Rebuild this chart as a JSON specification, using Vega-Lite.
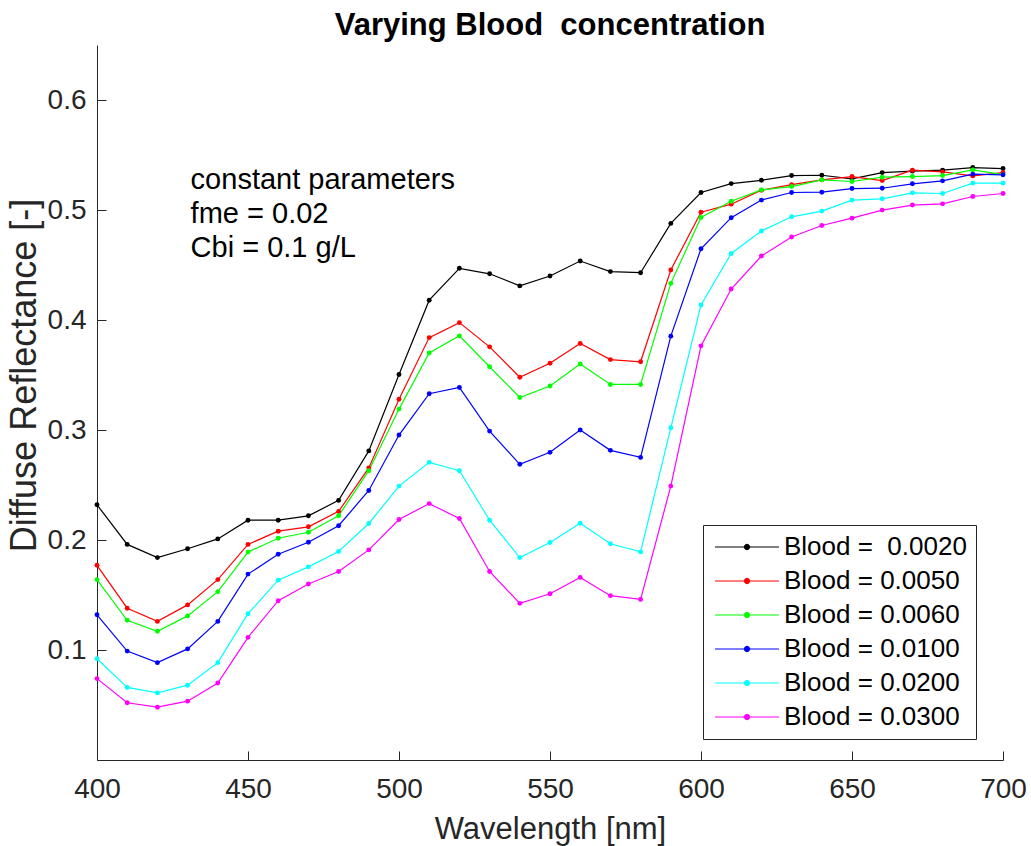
{
  "$schema": "https://vega.github.io/schema/vega-lite/v6.json",
  "autosize": {"type": "none"},
  "width": 906,
  "height": 715,
  "padding": {"left": 97, "top": 45, "right": 28, "bottom": 86},
  "background": "white",
  "title": {
    "text": "Varying Blood\u00a0 concentration",
    "font": "Liberation Sans",
    "fontSize": 31,
    "fontWeight": "bold",
    "color": "black",
    "anchor": "middle",
    "baseline": "alphabetic",
    "frame": "group",
    "offset": -21
  },
  "config": {
    "view": {"stroke": null},
    "font": "Liberation Sans"
  },
  "datasets": {
    "spectra": [
      {"wl":400,"s":"Blood = \u00a00.0020","r":0.232},{"wl":400,"s":"Blood = 0.0050","r":0.177},{"wl":400,"s":"Blood = 0.0060","r":0.164},{"wl":400,"s":"Blood = 0.0100","r":0.132},{"wl":400,"s":"Blood = 0.0200","r":0.092},{"wl":400,"s":"Blood = 0.0300","r":0.074},
      {"wl":410,"s":"Blood = \u00a00.0020","r":0.196},{"wl":410,"s":"Blood = 0.0050","r":0.138},{"wl":410,"s":"Blood = 0.0060","r":0.127},{"wl":410,"s":"Blood = 0.0100","r":0.099},{"wl":410,"s":"Blood = 0.0200","r":0.066},{"wl":410,"s":"Blood = 0.0300","r":0.052},
      {"wl":420,"s":"Blood = \u00a00.0020","r":0.184},{"wl":420,"s":"Blood = 0.0050","r":0.126},{"wl":420,"s":"Blood = 0.0060","r":0.117},{"wl":420,"s":"Blood = 0.0100","r":0.0885},{"wl":420,"s":"Blood = 0.0200","r":0.061},{"wl":420,"s":"Blood = 0.0300","r":0.048},
      {"wl":430,"s":"Blood = \u00a00.0020","r":0.192},{"wl":430,"s":"Blood = 0.0050","r":0.141},{"wl":430,"s":"Blood = 0.0060","r":0.131},{"wl":430,"s":"Blood = 0.0100","r":0.101},{"wl":430,"s":"Blood = 0.0200","r":0.068},{"wl":430,"s":"Blood = 0.0300","r":0.0535},
      {"wl":440,"s":"Blood = \u00a00.0020","r":0.201},{"wl":440,"s":"Blood = 0.0050","r":0.164},{"wl":440,"s":"Blood = 0.0060","r":0.153},{"wl":440,"s":"Blood = 0.0100","r":0.126},{"wl":440,"s":"Blood = 0.0200","r":0.0885},{"wl":440,"s":"Blood = 0.0300","r":0.070},
      {"wl":450,"s":"Blood = \u00a00.0020","r":0.218},{"wl":450,"s":"Blood = 0.0050","r":0.196},{"wl":450,"s":"Blood = 0.0060","r":0.189},{"wl":450,"s":"Blood = 0.0100","r":0.169},{"wl":450,"s":"Blood = 0.0200","r":0.133},{"wl":450,"s":"Blood = 0.0300","r":0.1115},
      {"wl":460,"s":"Blood = \u00a00.0020","r":0.218},{"wl":460,"s":"Blood = 0.0050","r":0.208},{"wl":460,"s":"Blood = 0.0060","r":0.2016},{"wl":460,"s":"Blood = 0.0100","r":0.187},{"wl":460,"s":"Blood = 0.0200","r":0.1635},{"wl":460,"s":"Blood = 0.0300","r":0.1448},
      {"wl":470,"s":"Blood = \u00a00.0020","r":0.222},{"wl":470,"s":"Blood = 0.0050","r":0.212},{"wl":470,"s":"Blood = 0.0060","r":0.207},{"wl":470,"s":"Blood = 0.0100","r":0.198},{"wl":470,"s":"Blood = 0.0200","r":0.1756},{"wl":470,"s":"Blood = 0.0300","r":0.160},
      {"wl":480,"s":"Blood = \u00a00.0020","r":0.236},{"wl":480,"s":"Blood = 0.0050","r":0.226},{"wl":480,"s":"Blood = 0.0060","r":0.222},{"wl":480,"s":"Blood = 0.0100","r":0.213},{"wl":480,"s":"Blood = 0.0200","r":0.1896},{"wl":480,"s":"Blood = 0.0300","r":0.1714},
      {"wl":490,"s":"Blood = \u00a00.0020","r":0.281},{"wl":490,"s":"Blood = 0.0050","r":0.2655},{"wl":490,"s":"Blood = 0.0060","r":0.263},{"wl":490,"s":"Blood = 0.0100","r":0.245},{"wl":490,"s":"Blood = 0.0200","r":0.215},{"wl":490,"s":"Blood = 0.0300","r":0.191},
      {"wl":500,"s":"Blood = \u00a00.0020","r":0.3505},{"wl":500,"s":"Blood = 0.0050","r":0.328},{"wl":500,"s":"Blood = 0.0060","r":0.319},{"wl":500,"s":"Blood = 0.0100","r":0.2954},{"wl":500,"s":"Blood = 0.0200","r":0.249},{"wl":500,"s":"Blood = 0.0300","r":0.2186},
      {"wl":510,"s":"Blood = \u00a00.0020","r":0.418},{"wl":510,"s":"Blood = 0.0050","r":0.384},{"wl":510,"s":"Blood = 0.0060","r":0.370},{"wl":510,"s":"Blood = 0.0100","r":0.333},{"wl":510,"s":"Blood = 0.0200","r":0.2706},{"wl":510,"s":"Blood = 0.0300","r":0.2331},
      {"wl":520,"s":"Blood = \u00a00.0020","r":0.447},{"wl":520,"s":"Blood = 0.0050","r":0.3976},{"wl":520,"s":"Blood = 0.0060","r":0.3856},{"wl":520,"s":"Blood = 0.0100","r":0.3387},{"wl":520,"s":"Blood = 0.0200","r":0.263},{"wl":520,"s":"Blood = 0.0300","r":0.2195},
      {"wl":530,"s":"Blood = \u00a00.0020","r":0.442},{"wl":530,"s":"Blood = 0.0050","r":0.3756},{"wl":530,"s":"Blood = 0.0060","r":0.3575},{"wl":530,"s":"Blood = 0.0100","r":0.299},{"wl":530,"s":"Blood = 0.0200","r":0.218},{"wl":530,"s":"Blood = 0.0300","r":0.1714},
      {"wl":540,"s":"Blood = \u00a00.0020","r":0.431},{"wl":540,"s":"Blood = 0.0050","r":0.348},{"wl":540,"s":"Blood = 0.0060","r":0.3296},{"wl":540,"s":"Blood = 0.0100","r":0.2688},{"wl":540,"s":"Blood = 0.0200","r":0.184},{"wl":540,"s":"Blood = 0.0300","r":0.1424},
      {"wl":550,"s":"Blood = \u00a00.0020","r":0.440},{"wl":550,"s":"Blood = 0.0050","r":0.3607},{"wl":550,"s":"Blood = 0.0060","r":0.340},{"wl":550,"s":"Blood = 0.0100","r":0.2797},{"wl":550,"s":"Blood = 0.0200","r":0.1977},{"wl":550,"s":"Blood = 0.0300","r":0.1511},
      {"wl":560,"s":"Blood = \u00a00.0020","r":0.4536},{"wl":560,"s":"Blood = 0.0050","r":0.3786},{"wl":560,"s":"Blood = 0.0060","r":0.360},{"wl":560,"s":"Blood = 0.0100","r":0.300},{"wl":560,"s":"Blood = 0.0200","r":0.2152},{"wl":560,"s":"Blood = 0.0300","r":0.166},
      {"wl":570,"s":"Blood = \u00a00.0020","r":0.444},{"wl":570,"s":"Blood = 0.0050","r":0.364},{"wl":570,"s":"Blood = 0.0060","r":0.3414},{"wl":570,"s":"Blood = 0.0100","r":0.2815},{"wl":570,"s":"Blood = 0.0200","r":0.1966},{"wl":570,"s":"Blood = 0.0300","r":0.1494},
      {"wl":580,"s":"Blood = \u00a00.0020","r":0.443},{"wl":580,"s":"Blood = 0.0050","r":0.362},{"wl":580,"s":"Blood = 0.0060","r":0.3414},{"wl":580,"s":"Blood = 0.0100","r":0.2751},{"wl":580,"s":"Blood = 0.0200","r":0.1892},{"wl":580,"s":"Blood = 0.0300","r":0.146},
      {"wl":590,"s":"Blood = \u00a00.0020","r":0.4878},{"wl":590,"s":"Blood = 0.0050","r":0.4455},{"wl":590,"s":"Blood = 0.0060","r":0.4333},{"wl":590,"s":"Blood = 0.0100","r":0.3853},{"wl":590,"s":"Blood = 0.0200","r":0.302},{"wl":590,"s":"Blood = 0.0300","r":0.249},
      {"wl":600,"s":"Blood = \u00a00.0020","r":0.5159},{"wl":600,"s":"Blood = 0.0050","r":0.498},{"wl":600,"s":"Blood = 0.0060","r":0.4932},{"wl":600,"s":"Blood = 0.0100","r":0.4648},{"wl":600,"s":"Blood = 0.0200","r":0.4137},{"wl":600,"s":"Blood = 0.0300","r":0.3765},
      {"wl":610,"s":"Blood = \u00a00.0020","r":0.524},{"wl":610,"s":"Blood = 0.0050","r":0.5053},{"wl":610,"s":"Blood = 0.0060","r":0.508},{"wl":610,"s":"Blood = 0.0100","r":0.493},{"wl":610,"s":"Blood = 0.0200","r":0.4605},{"wl":610,"s":"Blood = 0.0300","r":0.4282},
      {"wl":620,"s":"Blood = \u00a00.0020","r":0.527},{"wl":620,"s":"Blood = 0.0050","r":0.518},{"wl":620,"s":"Blood = 0.0060","r":0.5183},{"wl":620,"s":"Blood = 0.0100","r":0.509},{"wl":620,"s":"Blood = 0.0200","r":0.4809},{"wl":620,"s":"Blood = 0.0300","r":0.4582},
      {"wl":630,"s":"Blood = \u00a00.0020","r":0.5313},{"wl":630,"s":"Blood = 0.0050","r":0.523},{"wl":630,"s":"Blood = 0.0060","r":0.5213},{"wl":630,"s":"Blood = 0.0100","r":0.5159},{"wl":630,"s":"Blood = 0.0200","r":0.4938},{"wl":630,"s":"Blood = 0.0300","r":0.4754},
      {"wl":640,"s":"Blood = \u00a00.0020","r":0.5316},{"wl":640,"s":"Blood = 0.0050","r":0.5274},{"wl":640,"s":"Blood = 0.0060","r":0.5274},{"wl":640,"s":"Blood = 0.0100","r":0.5162},{"wl":640,"s":"Blood = 0.0200","r":0.499},{"wl":640,"s":"Blood = 0.0300","r":0.4859},
      {"wl":650,"s":"Blood = \u00a00.0020","r":0.5283},{"wl":650,"s":"Blood = 0.0050","r":0.5304},{"wl":650,"s":"Blood = 0.0060","r":0.5259},{"wl":650,"s":"Blood = 0.0100","r":0.5195},{"wl":650,"s":"Blood = 0.0200","r":0.509},{"wl":650,"s":"Blood = 0.0300","r":0.4926},
      {"wl":660,"s":"Blood = \u00a00.0020","r":0.534},{"wl":660,"s":"Blood = 0.0050","r":0.5268},{"wl":660,"s":"Blood = 0.0060","r":0.5298},{"wl":660,"s":"Blood = 0.0100","r":0.5198},{"wl":660,"s":"Blood = 0.0200","r":0.5102},{"wl":660,"s":"Blood = 0.0300","r":0.4999},
      {"wl":670,"s":"Blood = \u00a00.0020","r":0.5353},{"wl":670,"s":"Blood = 0.0050","r":0.5362},{"wl":670,"s":"Blood = 0.0060","r":0.5304},{"wl":670,"s":"Blood = 0.0100","r":0.5238},{"wl":670,"s":"Blood = 0.0200","r":0.5156},{"wl":670,"s":"Blood = 0.0300","r":0.5045},
      {"wl":680,"s":"Blood = \u00a00.0020","r":0.5362},{"wl":680,"s":"Blood = 0.0050","r":0.5347},{"wl":680,"s":"Blood = 0.0060","r":0.5313},{"wl":680,"s":"Blood = 0.0100","r":0.5265},{"wl":680,"s":"Blood = 0.0200","r":0.515},{"wl":680,"s":"Blood = 0.0300","r":0.5056},
      {"wl":690,"s":"Blood = \u00a00.0020","r":0.5386},{"wl":690,"s":"Blood = 0.0050","r":0.531},{"wl":690,"s":"Blood = 0.0060","r":0.5365},{"wl":690,"s":"Blood = 0.0100","r":0.5326},{"wl":690,"s":"Blood = 0.0200","r":0.5244},{"wl":690,"s":"Blood = 0.0300","r":0.5123},
      {"wl":700,"s":"Blood = \u00a00.0020","r":0.5377},{"wl":700,"s":"Blood = 0.0050","r":0.534},{"wl":700,"s":"Blood = 0.0060","r":0.5322},{"wl":700,"s":"Blood = 0.0100","r":0.532},{"wl":700,"s":"Blood = 0.0200","r":0.5244},{"wl":700,"s":"Blood = 0.0300","r":0.515}
    ]
  },
  "layer": [
    {
      "data": {"name": "spectra"},
      "mark": {"type": "line", "strokeWidth": 1.2, "clip": false},
      "encoding": {
        "x": {
          "field": "wl", "type": "quantitative",
          "scale": {"domain": [400, 700], "nice": false, "zero": false},
          "axis": {
            "title": "Wavelength [nm]",
            "values": [400, 450, 500, 550, 600, 650, 700],
            "format": "d",
            "grid": false,
            "labelFont": "Liberation Sans", "labelFontSize": 28, "labelColor": "#262626",
            "labelPadding": 24, "labelFlush": false, "labelOverlap": false,
            "domainColor": "#262626", "domainWidth": 1,
            "tickColor": "#262626", "tickSize": -9, "tickWidth": 1,
            "titleFont": "Liberation Sans", "titleFontSize": 31, "titleFontWeight": "normal", "titleColor": "#262626",
            "titleBaseline": "alphabetic", "titleY": 78
          }
        },
        "y": {
          "field": "r", "type": "quantitative",
          "scale": {"domain": [0, 0.65], "nice": false, "zero": false},
          "axis": {
            "title": "Diffuse Reflectance [-]",
            "values": [0.1, 0.2, 0.3, 0.4, 0.5, 0.6],
            "format": ".1f",
            "grid": false,
            "labelFont": "Liberation Sans", "labelFontSize": 28, "labelColor": "#262626",
            "labelPadding": 20, "labelOverlap": false, "labelFlush": false,
            "domainColor": "#262626", "domainWidth": 1,
            "tickColor": "#262626", "tickSize": -9, "tickWidth": 1,
            "titleFont": "Liberation Sans", "titleFontSize": 36, "titleFontWeight": "normal", "titleColor": "#262626",
            "titleBaseline": "alphabetic", "titleX": -62, "titleY": 330
          }
        },
        "color": {
          "field": "s", "type": "nominal",
          "scale": {
            "domain": ["Blood = \u00a00.0020", "Blood = 0.0050", "Blood = 0.0060", "Blood = 0.0100", "Blood = 0.0200", "Blood = 0.0300"],
            "range": ["#000000", "#ff0000", "#00ff00", "#0000ff", "#00ffff", "#ff00ff"]
          },
          "legend": {
            "title": null,
            "orient": "none",
            "legendX": 606,
            "legendY": 480,
            "labelFont": "Liberation Sans",
            "labelFontSize": 26,
            "labelColor": "black",
            "labelLimit": 400,
            "labelOffset": 46,
            "strokeColor": "#262626",
            "fillColor": "white",
            "padding": 9,
            "rowPadding": 8,
            "symbolType": "M-1,0H5.4M1.93,0A0.27,0.27,0,1,1,2.47,0A0.27,0.27,0,1,1,1.93,0Z",
            "symbolSize": 400,
            "symbolStrokeWidth": 1,
            "encode": {
              "symbols": {
                "update": {
                  "fill": {"scale": "color", "field": "value"},
                  "stroke": {"scale": "color", "field": "value"},
                  "opacity": {"value": 1}
                }
              }
            }
          }
        }
      }
    },
    {
      "data": {"name": "spectra"},
      "mark": {"type": "point", "filled": true, "size": 24, "opacity": 1},
      "encoding": {
        "x": {"field": "wl", "type": "quantitative"},
        "y": {"field": "r", "type": "quantitative"},
        "color": {"field": "s", "type": "nominal"}
      }
    },
    {
      "data": {"values": [{"note": "constant parameters"}]},
      "mark": {
        "type": "text",
        "text": ["constant parameters", "fme = 0.02", "Cbi = 0.1 g/L"],
        "font": "Liberation Sans",
        "fontSize": 29,
        "color": "black",
        "align": "left",
        "baseline": "alphabetic",
        "lineHeight": 34
      },
      "encoding": {
        "x": {"datum": 431},
        "y": {"datum": 0.519}
      }
    }
  ]
}
